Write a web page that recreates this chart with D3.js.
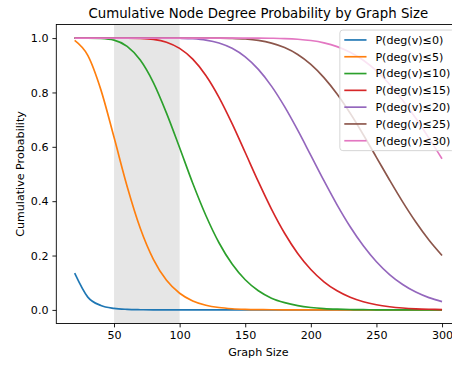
<!DOCTYPE html>
<html>
<head>
<meta charset="utf-8">
<script src="https://cdn.jsdelivr.net/npm/d3@7/dist/d3.min.js"></script>
<style>
body { margin:0; background:#fff; }
svg { display:block; font-family:"DejaVu Sans", sans-serif; }
</style>
</head>
<body>
<svg></svg>
<script>
// graph sizes (x) and the cumulative probabilities
var sizes = [20,30,40,50,60,70,80,90,100,110,120,130,140,150,160,170,180,190,200,210,220,230,240,250,260,270,280,290,300]

var deg0  = [0.1351,0.0471,0.0164,0.0057,0.0020,0.0007,0.0002,0.0001,0,0,0,0,0,0,0,0,0,0,0,0,0,0,0,0,0,0,0,0,0]
var deg5  = [0.9915,0.9363,0.8095,0.6349,0.4542,0.3004,0.1861,0.1087,0.0612,0.0329,0.0172,0.0087,0.0043,0.0021,0.0010,0.0005,0.0002,0.0001,0,0,0,0,0,0,0,0,0,0,0]
var deg10 = [1.0,0.9999,0.9986,0.9924,0.9696,0.9193,0.8364,0.7241,0.5966,0.4660,0.3474,0.2471,0.1686,0.1109,0.0704,0.0433,0.0268,0.0157,0.0090,0.0050,0.0028,0.0015,0.0008,0.0004,0.0002,0.0001,0.0001,0,0]
var deg15 = [1.0,1.0,1.0,1.0,1.0,0.9991,0.9954,0.9847,0.9620,0.9224,0.8625,0.7822,0.6853,0.5790,0.4717,0.3709,0.2821,0.2078,0.1487,0.1034,0.0702,0.0464,0.0300,0.0189,0.0117,0.0070,0.0041,0.0024,0.0013]
var deg20 = [1.0,1.0,1.0,1.0,1.0,1.0,1.0,1.0,0.9994,0.9976,0.9927,0.9820,0.9624,0.9308,0.8848,0.8233,0.7477,0.6612,0.5686,0.4754,0.3865,0.3059,0.2358,0.1773,0.1302,0.0935,0.0657,0.0452,0.0305]
var deg25 = [1.0,1.0,1.0,1.0,1.0,1.0,1.0,1.0,1.0,1.0,1.0,0.9997,0.9988,0.9965,0.9914,0.9816,0.9652,0.9396,0.9032,0.8547,0.7942,0.7233,0.6445,0.5614,0.4779,0.3975,0.3233,0.2571,0.2002]
var deg30 = [1.0,1.0,1.0,1.0,1.0,1.0,1.0,1.0,1.0,1.0,1.0,1.0,1.0,1.0,1.0,0.9994,0.9983,0.9958,0.9910,0.9825,0.9686,0.9477,0.9184,0.8794,0.8303,0.7717,0.7049,0.6321,0.5561]

var labels = ["P(deg(v)\u22640)","P(deg(v)\u22645)","P(deg(v)\u226410)","P(deg(v)\u226415)","P(deg(v)\u226420)","P(deg(v)\u226425)","P(deg(v)\u226430)"]
var series = [deg0,deg5,deg10,deg15,deg20,deg25,deg30]
var xTicks = [50,100,150,200,250,300]
var yTicks = [0,0.2,0.4,0.6,0.8,1.0]
var band = [50,100]

var width = 452
var height = 365
var plotL = 56.3, plotR = 460.4, plotT = 24.5, plotB = 323.5
var pt = 80/72   // one point in pixels
var fs = 10*pt

var colorScale = d3.scaleOrdinal()
                    .domain(labels)
                    .range(["#1f77b4","#ff7f0e","#2ca02c","#d62728","#9467bd","#8c564b","#e377c2"])

// matplotlib style 5% margins around the data
var xMin = d3.min(sizes), xMax = d3.max(sizes)
var xPad = (xMax - xMin) * 0.05
var xScale = d3.scaleLinear()
                .domain([xMin - xPad, xMax + xPad])
                .range([plotL, plotR])
var yScale = d3.scaleLinear()
                .domain([-0.05, 1.05])
                .range([plotB, plotT])

var svg = d3.select("svg")
    .attr("width", width)
    .attr("height", height)

svg.append("defs").append("clipPath")
    .attr("id","plotclip")
    .append("rect")
        .attr("x",plotL).attr("y",plotT)
        .attr("width",plotR-plotL).attr("height",plotB-plotT)

// shaded span
svg.append("rect")
    .attr("x", xScale(band[0]))
    .attr("y", plotT)
    .attr("width", xScale(band[1]) - xScale(band[0]))
    .attr("height", plotB - plotT)
    .attr("fill", "gray")
    .attr("fill-opacity", 0.2)

var line = d3.line()
    .x((d,i) => xScale(sizes[i]))
    .y(d => yScale(d))
    .curve(d3.curveMonotoneX)

svg.append("g")
    .attr("clip-path","url(#plotclip)")
    .selectAll("path")
    .data(series)
    .enter()
    .append("path")
        .attr("d", d => line(d))
        .attr("fill","none")
        .attr("stroke",(d,i) => colorScale(labels[i]))
        .attr("stroke-width",1.5*pt)

// axes
var xAxis = d3.axisBottom(xScale)
                .tickValues(xTicks)
                .tickFormat(d3.format("d"))
                .tickSize(3.5*pt)
                .tickPadding(3.5*pt)
var yAxis = d3.axisLeft(yScale)
                .tickValues(yTicks)
                .tickFormat(d3.format(".1f"))
                .tickSize(3.5*pt)
                .tickPadding(3.5*pt)

var gx = svg.append("g")
    .attr("transform","translate(0,"+plotB+")")
    .call(xAxis)
var gy = svg.append("g")
    .attr("transform","translate("+plotL+",0)")
    .call(yAxis)

;[gx,gy].forEach(function(g){
    g.select(".domain").remove()
    g.attr("font-family","DejaVu Sans").attr("font-size",fs)
    g.selectAll("line").attr("stroke","#000").attr("stroke-width",0.8*pt)
    g.selectAll("text").attr("fill","#000")
})

// spines
svg.append("rect")
    .attr("x",plotL).attr("y",plotT)
    .attr("width",plotR-plotL).attr("height",plotB-plotT)
    .attr("fill","none")
    .attr("stroke","#000")
    .attr("stroke-width",0.8*pt)

// texts
svg.append("text")
    .text("Cumulative Node Degree Probability by Graph Size")
    .attr("x",(plotL+plotR)/2)
    .attr("y",17.5)
    .attr("text-anchor","middle")
    .attr("font-size",12*pt)

svg.append("text")
    .text("Graph Size")
    .attr("x",(plotL+plotR)/2)
    .attr("y",356)
    .attr("text-anchor","middle")
    .attr("font-size",fs)

svg.append("text")
    .text("Cumulative Probability")
    .attr("transform","translate(24,"+((plotT+plotB)/2)+") rotate(-90)")
    .attr("text-anchor","middle")
    .attr("font-size",fs)

// legend, anchored to the upper right corner of the axes
var legend = svg.append("g")
var frame = legend.append("rect")
var rowH = 16.8
var legT = plotT + 0.5*fs
var legRight = plotR - 0.5*fs

var rows = legend.selectAll(".row")
    .data(labels)
    .enter()
    .append("g")
    .attr("transform",(d,i) => "translate(0,"+(legT + 0.4*fs + 5.45 + i*rowH)+")")
var texts = rows.append("text")
    .text(d => d)
    .attr("dy","0.35em")
    .attr("font-size",fs)

var maxW = 0
texts.each(function(){ maxW = Math.max(maxW, this.getComputedTextLength()) })
var legL = legRight - (0.4*fs + 2*fs + 0.8*fs + maxW + 0.4*fs)

texts.attr("x", legL + 0.4*fs + 2*fs + 0.8*fs)
rows.append("line")
    .attr("x1",legL + 0.4*fs).attr("x2",legL + 0.4*fs + 2*fs)
    .attr("stroke",d => colorScale(d))
    .attr("stroke-width",1.5*pt)

frame
    .attr("x",legL).attr("y",legT)
    .attr("width",legRight - legL)
    .attr("height",rowH*(labels.length-1) + 10.9 + 0.8*fs)
    .attr("rx",3)
    .attr("fill","#fff").attr("fill-opacity",0.8)
    .attr("stroke","#d6d6d6").attr("stroke-width",1)
</script>
</body>
</html>
